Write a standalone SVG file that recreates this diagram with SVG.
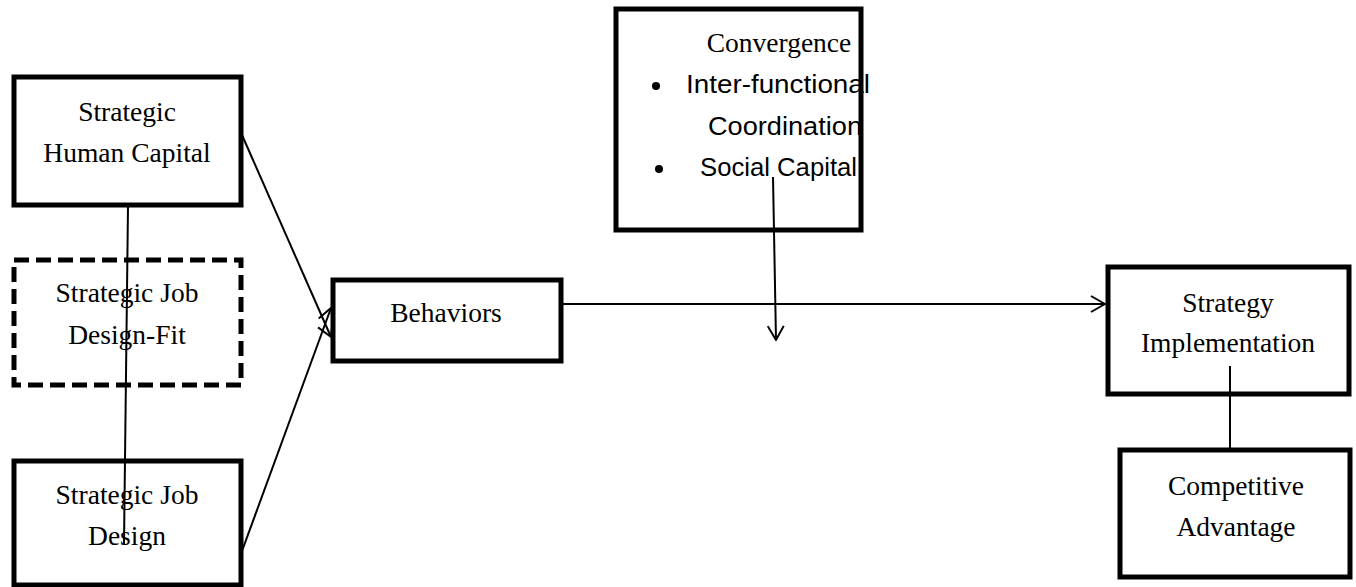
<svg xmlns="http://www.w3.org/2000/svg" width="1356" height="587" viewBox="0 0 1356 587">
<style>
.box{fill:#fff;stroke:#000;stroke-width:5}
.dash{fill:#fff;stroke:#000;stroke-width:5;stroke-dasharray:15 7}
.t{font-family:"Liberation Serif","Times New Roman",serif;font-size:27.5px;fill:#000;text-anchor:middle}
.s{font-family:"Liberation Sans",Arial,sans-serif;font-size:25px;fill:#000}
.c{fill:none;stroke:#000;stroke-width:2}
</style>
<defs>
<marker id="arr" viewBox="0 0 16 18" refX="15" refY="9" markerWidth="16" markerHeight="18" markerUnits="userSpaceOnUse" orient="auto">
<path d="M1,1 L15,9 L1,17" fill="none" stroke="#000" stroke-width="2"/>
</marker>
</defs>
<rect width="1356" height="587" fill="#fff"/>
<g id="n-shc">
<rect class="box" x="14" y="77" width="227" height="128"/>
<text class="t" x="127" y="121">Strategic</text>
<text class="t" x="127" y="162">Human Capital</text>
</g>
<g id="n-sjdf">
<rect class="dash" x="14" y="260" width="227" height="125"/>
<text class="t" x="127" y="302">Strategic Job</text>
<text class="t" x="127" y="344">Design-Fit</text>
</g>
<g id="n-sjd">
<rect class="box" x="14" y="461" width="227" height="124"/>
<text class="t" x="127" y="504">Strategic Job</text>
<text class="t" x="127" y="545">Design</text>
</g>
<g id="n-beh">
<rect class="box" x="333" y="280" width="228" height="81"/>
<text class="t" x="446" y="322">Behaviors</text>
</g>
<g id="n-conv">
<rect class="box" x="616" y="9" width="245" height="221"/>
<text class="t" x="779" y="52">Convergence</text>
<circle cx="656" cy="86" r="4"/>
<text class="s" x="686" y="93" textLength="184" lengthAdjust="spacingAndGlyphs">Inter-functional</text>
<text class="s" x="708" y="135" textLength="154" lengthAdjust="spacingAndGlyphs">Coordination</text>
<circle cx="659" cy="169" r="4"/>
<text class="s" x="700" y="176" textLength="157" lengthAdjust="spacingAndGlyphs">Social Capital</text>
</g>
<g id="n-si">
<rect class="box" x="1108" y="267" width="241" height="127"/>
<text class="t" x="1228" y="312">Strategy</text>
<text class="t" x="1228" y="352">Implementation</text>
</g>
<g id="n-ca">
<rect class="box" x="1120" y="450" width="230" height="127"/>
<text class="t" x="1236" y="495">Competitive</text>
<text class="t" x="1236" y="536">Advantage</text>
</g>
<g id="connectors">
<line class="c" x1="128" y1="206" x2="124" y2="544"/>
<line class="c" x1="242" y1="135" x2="331" y2="337" marker-end="url(#arr)"/>
<line class="c" x1="242" y1="551" x2="331" y2="308" marker-end="url(#arr)"/>
<line class="c" x1="563" y1="304" x2="1105" y2="304" marker-end="url(#arr)"/>
<line class="c" x1="773" y1="177" x2="776" y2="340" marker-end="url(#arr)"/>
<line class="c" x1="1230" y1="366" x2="1230" y2="450"/>
</g>
</svg>
